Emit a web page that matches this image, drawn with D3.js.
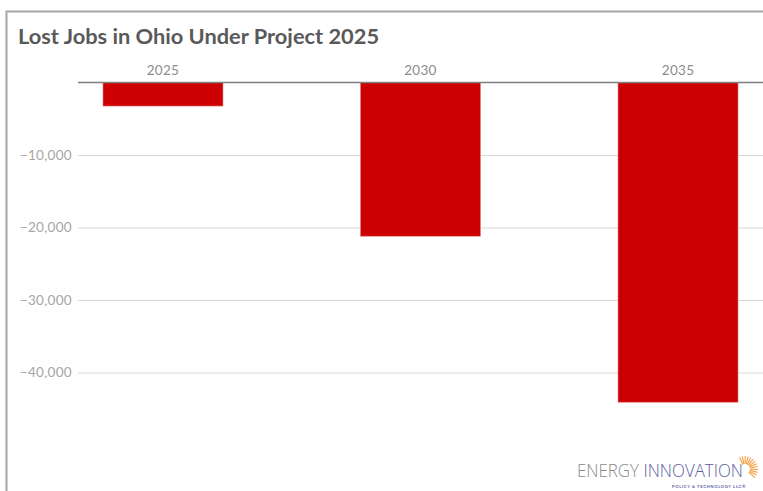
<!DOCTYPE html>
<html>
<head>
<meta charset="utf-8">
<script src="https://cdn.jsdelivr.net/npm/d3@7"></script>
<style>
  body { margin: 0; background: #fff; }
  svg { display: block; }
</style>
</head>
<body>
<svg id="chart"></svg>
<script>
var width = 763
var height = 491

// data
var years = ["2025", "2030", "2035"]
var lostJobs = [-3250, -21200, -44100]
var yTicks = [-10000, -20000, -30000, -40000]
var title = "Lost Jobs in Ohio Under Project 2025"

const svg = d3.select("#chart")
  .attr("width", width)
  .attr("height", height)
  .attr("viewBox", [0, 0, width, height])
  .style("font-family", "Lato, 'Open Sans', sans-serif")

// frame
svg.append("path")
  .attr("d", `M6.5,${height} V11.5 H${width}`)
  .attr("fill", "none")
  .attr("stroke", "#a6a6a6")
  .attr("stroke-width", 2)

svg.append("text")
  .attr("x", 18)
  .attr("y", 44)
  .attr("fill", "#595959")
  .attr("font-size", 21.8)
  .attr("font-weight", "bold")
  .text(title)

x = d3.scaleBand()
  .domain(years)
  .range([78, 763])
  .paddingInner(0.534)
  .paddingOuter(0.097)

y = d3.scaleLinear()
  .domain([-50000, 0])
  .range([445, 82.5])

// gridlines + tick labels
const gy = svg.append("g")
  .attr("transform", "translate(78,0)")
  .call(d3.axisLeft(y)
    .tickValues(yTicks)
    .tickSize(-(width - 78))
    .tickPadding(6)
    .tickFormat(d => "\u2212" + d3.format(",")(-d)))

gy.select(".domain").remove()
gy.selectAll(".tick line").attr("stroke", "#d9d9d9").attr("stroke-width", 1)
gy.selectAll(".tick text")
  .attr("fill", "#a6a6a6")
  .attr("font-size", 13.5)
  .attr("letter-spacing", 0.3)
  .style("font-family", "Lato, 'Open Sans', sans-serif")

// bars
svg.append("g")
  .selectAll("rect")
  .data(lostJobs)
  .join("rect")
    .attr("x", (d, i) => x(years[i]))
    .attr("y", y(0))
    .attr("width", x.bandwidth())
    .attr("height", d => y(d) - y(0))
    .attr("fill", "#cc0000")
    .attr("stroke", "#e88080")
    .attr("stroke-width", 0.6)

// category axis on top (zero line)
const gx = svg.append("g")
  .attr("transform", `translate(0,${y(0)})`)
  .call(d3.axisTop(x).tickSize(0).tickPadding(8))

gx.select(".domain")
  .attr("d", `M78,0H${width}`)
  .attr("stroke", "#7f7f7f")
  .attr("stroke-width", 1.5)
gx.selectAll(".tick text")
  .attr("fill", "#8c8c8c")
  .attr("font-size", 13.5)
  .attr("letter-spacing", 0.3)
  .style("font-family", "Lato, 'Open Sans', sans-serif")

// logo
const logo = svg.append("g")
logo.append("text")
  .attr("x", 577)
  .attr("y", 477)
  .attr("font-size", 18.5)
  .attr("font-weight", 300)
  .attr("textLength", 166)
  .attr("lengthAdjust", "spacingAndGlyphs")
  .style("font-family", "'Open Sans', Lato, sans-serif")
  .call(t => t.append("tspan").attr("fill", "#8a8a8a").text("ENERGY "))
  .call(t => t.append("tspan").attr("fill", "#5a5c9e").text("INNOVATION"))

logo.append("text")
  .attr("x", 746)
  .attr("y", 487.5)
  .attr("text-anchor", "end")
  .attr("font-size", 4.2)
  .attr("font-weight", "bold")
  .attr("fill", "#5a5c9e")
  .attr("letter-spacing", 0.6)
  .text("POLICY & TECHNOLOGY LLC\u00ae")

var rays = d3.range(-115, 45, 13)
logo.selectAll("line.ray")
  .data(rays)
  .join("line")
    .attr("class", "ray")
    .attr("x1", a => 745 + 5 * Math.cos(a * Math.PI / 180))
    .attr("y1", a => 469 + 5 * Math.sin(a * Math.PI / 180))
    .attr("x2", a => 745 + 13 * Math.cos(a * Math.PI / 180))
    .attr("y2", a => 469 + 13 * Math.sin(a * Math.PI / 180))
    .attr("stroke", "#f4a044")
    .attr("stroke-width", 1.1)
</script>
</body>
</html>
